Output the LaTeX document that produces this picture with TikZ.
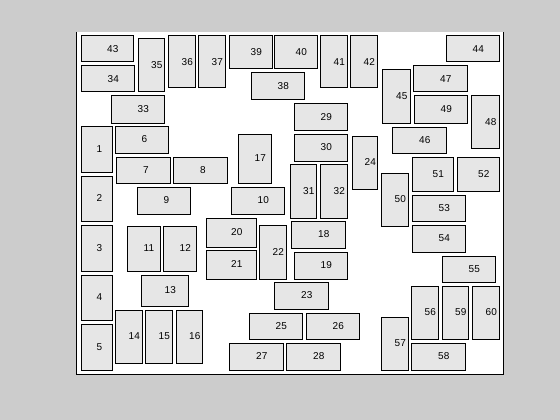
\documentclass[tikz,border=0pt]{standalone}
\usepackage{fontspec}
\setmainfont{Liberation Sans}
\usepackage{tikz}
\definecolor{figbg}{RGB}{204,204,204}
\definecolor{cellfill}{RGB}{230,230,230}
\tikzset{
  axesbox/.style ={fill=white, draw=none},
  axesline/.style={draw=black, line width=1pt},
  cell/.style    ={draw=black, fill=cellfill, line width=1pt},
  num/.style     ={anchor=west, inner sep=0pt, font=\fontsize{10}{12}\selectfont},
}

\begin{document}
\begin{tikzpicture}[x=1pt, y=-1pt]
    \fill[figbg] (0,0) rectangle (560,420);
    \useasboundingbox (0,0) rectangle (560,420);
    \fill[axesbox] (76,32) rectangle (503,374);
    \draw[axesline] (76,32) -- (76,374) -- (503,374) -- (503,32);

    % cells: left, top, right, bottom / number
    \foreach \xa/\ya/\xb/\yb/\n in {
        81/126/112/172/1, 81/176/112/221/2, 81/225/112/271/3,
        81/275/112/320/4, 81/324/112/370/5, 115/126/168/153/6,
        116/157/170/183/7, 173/157/227/183/8, 137/187/190/214/9,
        231/187/284/214/10, 127/226/160/271/11, 163/226/196/271/12,
        141/275/188/306/13, 115/310/142/363/14, 145/310/172/363/15,
        176/310/202/363/16, 238/134/271/183/17, 291/221/345/248/18,
        294/252/347/279/19, 206/218/256/247/20, 206/250/256/279/21,
        259/225/286/279/22, 274/282/328/309/23, 352/136/377/189/24,
        249/313/302/339/25, 306/313/359/339/26, 229/343/283/370/27,
        286/343/340/370/28, 294/104/347/130/29, 294/134/347/161/30,
        290/164/316/218/31, 320/164/347/218/32, 111/96/164/123/33,
        81/66/134/92/34, 138/39/164/92/35, 168/36/195/88/36,
        198/36/225/88/37, 251/73/304/100/38, 229/36/272/69/39,
        274/36/317/69/40, 320/36/347/88/41, 350/36/377/88/42,
        81/36/133/62/43, 446/36/499/62/44, 382/70/410/123/45,
        392/127/446/153/46, 413/66/467/92/47, 471/96/499/148/48,
        414/96/467/123/49, 381/173/408/226/50, 412/157/453/191/51,
        457/157/499/191/52, 412/195/465/221/53, 412/225/465/252/54,
        442/256/495/282/55, 411/286/438/339/56, 381/317/408/370/57,
        411/343/465/370/58, 442/286/468/339/59, 472/286/499/339/60}
    {
        \draw[cell] (\xa,\ya) rectangle (\xb,\yb);
        \node[num] (c\n) at ({(\xa+\xb)/2},{(\ya+\yb)/2}) {\n};
    }
\end{tikzpicture}
\end{document}
